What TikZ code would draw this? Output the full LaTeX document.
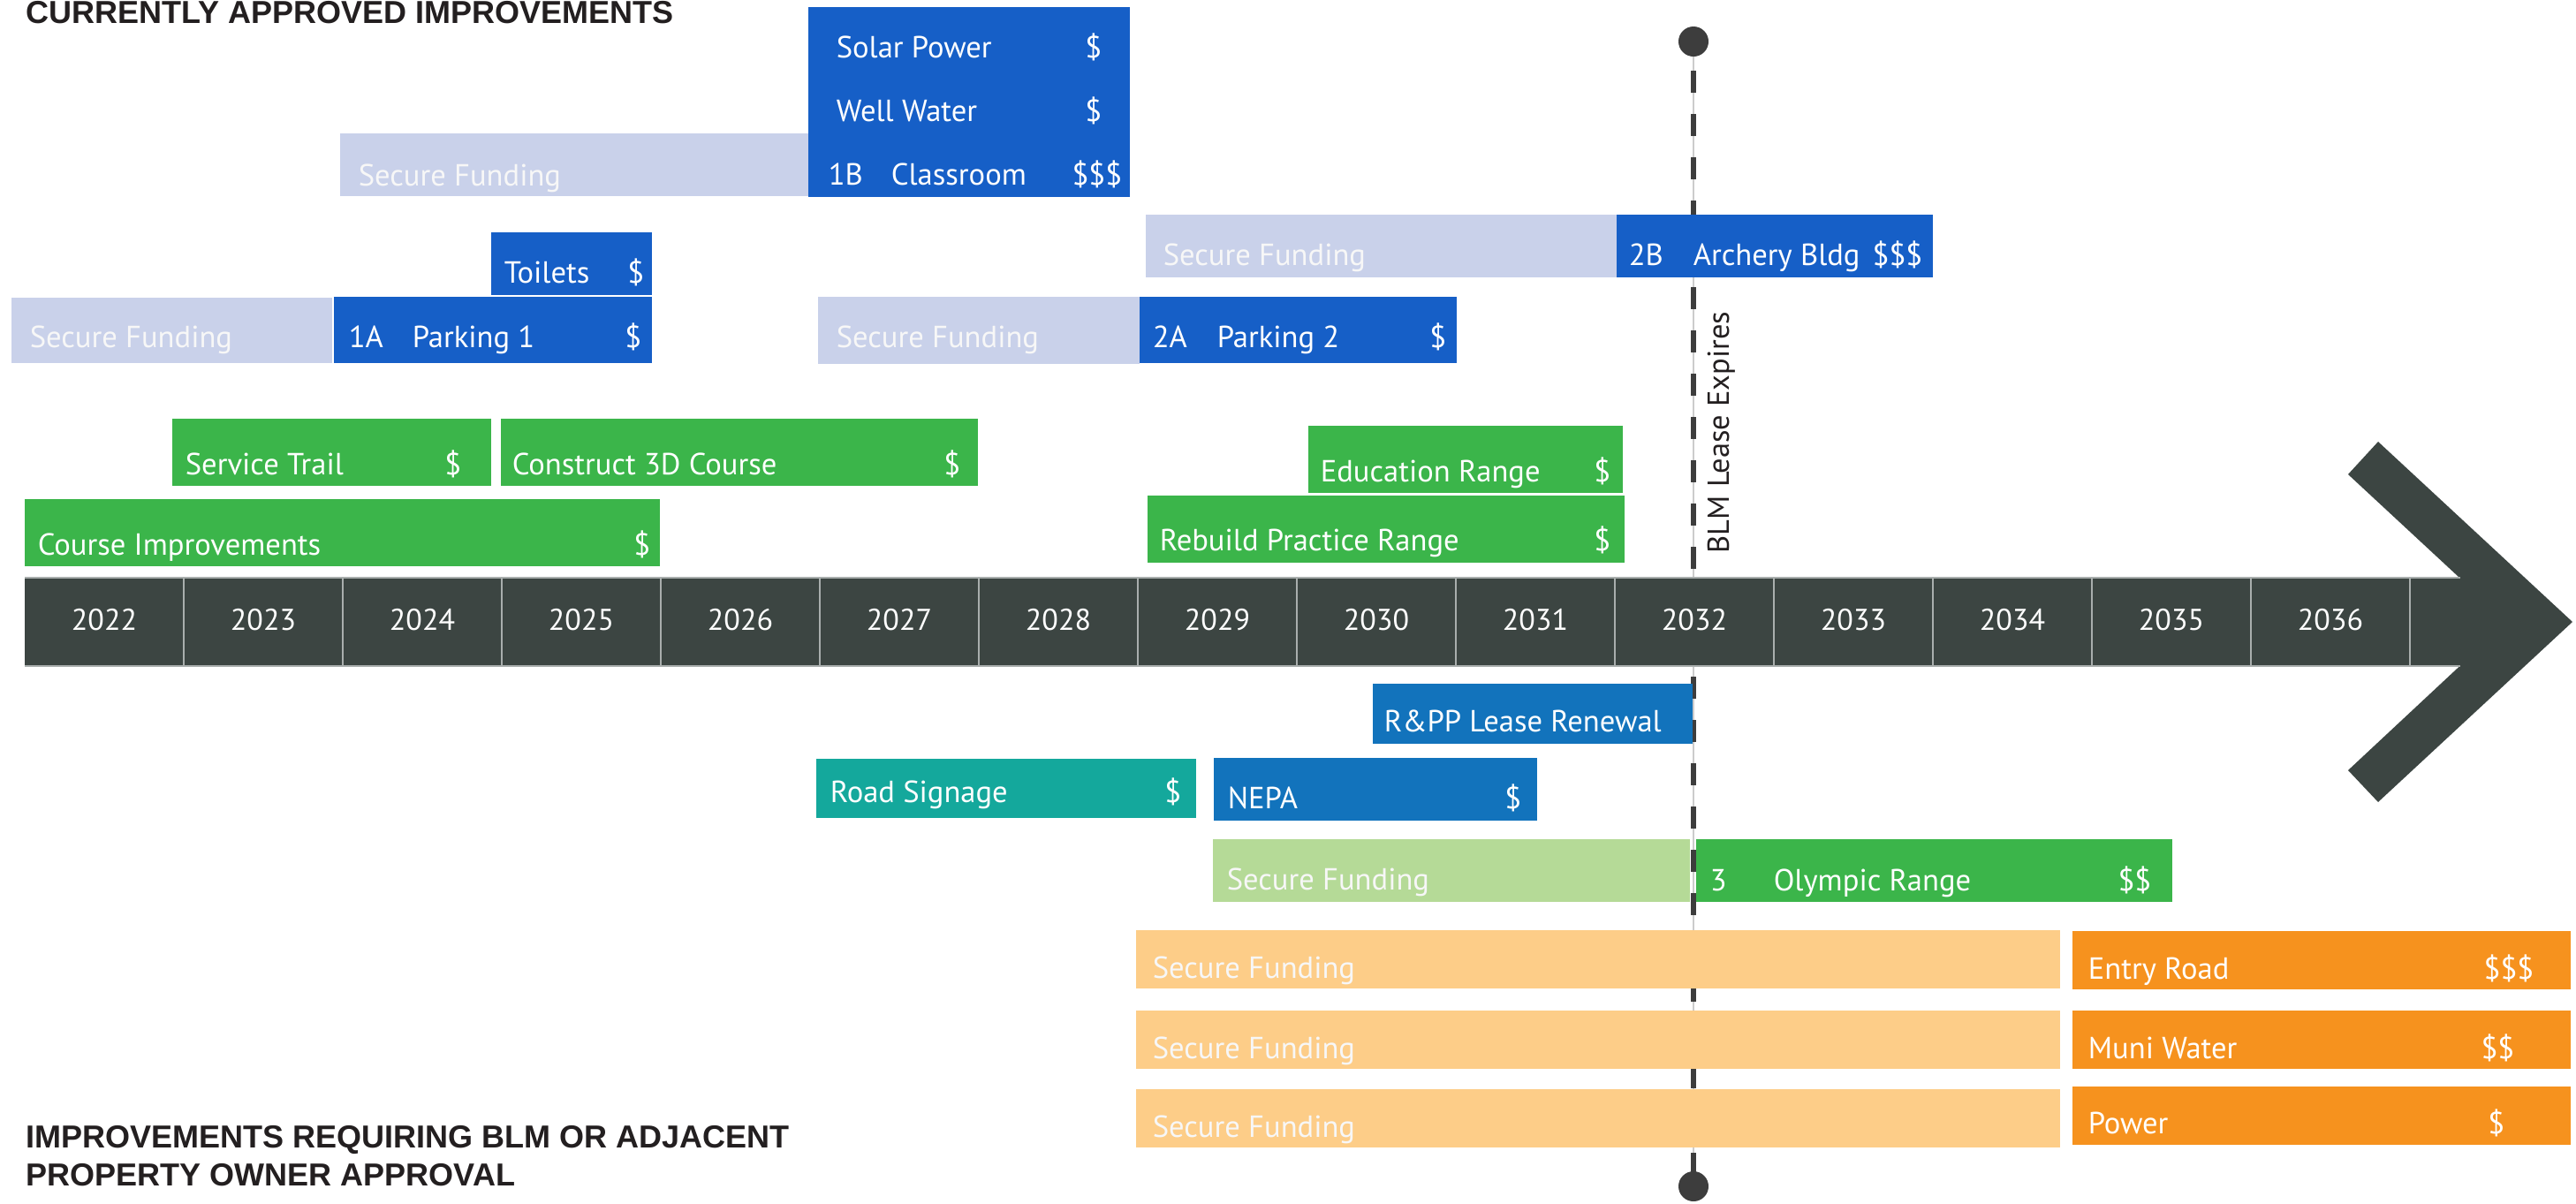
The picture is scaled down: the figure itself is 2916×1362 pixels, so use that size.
\documentclass[tikz,border=0pt]{standalone}
\usepackage{fontspec}
\setmainfont{PT Sans}
\newfontfamily\titlefont{Liberation Sans}
\definecolor{tlgray}{HTML}{3C4542}
\definecolor{tlline}{HTML}{A9AEAD}
\definecolor{blueA}{HTML}{165FC7}
\definecolor{blueB}{HTML}{1273BC}
\definecolor{lav}{HTML}{C9D1EA}
\definecolor{grn}{HTML}{3BB54A}
\definecolor{lgrn}{HTML}{B5DA97}
\definecolor{teal}{HTML}{14A89C}
\definecolor{lorange}{HTML}{FDCD88}
\definecolor{orng}{HTML}{F6921E}
\definecolor{dashcol}{HTML}{3D3D3D}
\definecolor{thinline}{HTML}{CCCCCC}
\definecolor{titlecol}{HTML}{231F20}
\definecolor{sftext}{HTML}{F7F7F7}
\newcommand{\ganttbar}[5]{\fill[#5] (#1,#2) rectangle (#3,#4);}
\begin{document}
\begin{tikzpicture}[x=0.25pt,y=-0.25pt,
  lbl/.style={anchor=base west, inner sep=0pt, text=white, font=\fontsize{8.65}{10}\selectfont},
  sf/.style={lbl, text=sftext},
  dol/.style={anchor=base east, inner sep=0pt, text=white, font=\fontsize{8.65}{10}\selectfont},
  yr/.style={anchor=base, inner sep=0pt, text=white, font=\fontsize{8.5}{10}\selectfont},
  ttl/.style={anchor=base west, inner sep=0pt, text=titlecol, font=\titlefont\bfseries\fontsize{9}{10.25}\selectfont, align=left},
  expl/.style={anchor=base west, inner sep=0pt, text=titlecol, rotate=90, font=\fontsize{8.6}{10}\selectfont}]
\useasboundingbox (0,0) rectangle (2916,1362);
\fill[white] (0,0) rectangle (2916,1362);

% lease expiry line
\coordinate (ltop) at (1917,47);
\coordinate (lbot) at (1917,1343);
\draw[thinline, line width=0.4pt] (ltop) -- (lbot);
\draw[dashcol, line width=1.65pt, dash pattern=on 6.25pt off 6pt] (1917,80) -- (lbot);

% bars: top section
\ganttbar{915}{8}{1279}{223}{blueA}
\ganttbar{385}{151}{915}{222}{lav}
\ganttbar{556}{263}{738}{334}{blueA}
\ganttbar{13}{337}{376}{411}{lav}
\ganttbar{378}{336}{738}{411}{blueA}
\ganttbar{1297}{243}{1830}{314}{lav}
\ganttbar{1830}{243}{2188}{314}{blueA}
\ganttbar{926}{336}{1290}{412}{lav}
\ganttbar{1290}{336}{1649}{411}{blueA}
\ganttbar{195}{474}{556}{550}{grn}
\ganttbar{567}{474}{1107}{550}{grn}
\ganttbar{28}{565}{747}{641}{grn}
\ganttbar{1481}{482}{1837}{558}{grn}
\ganttbar{1299}{561}{1839}{637}{grn}
% bottom section
\ganttbar{1554}{774}{1916}{842}{blueB}
\ganttbar{924}{859}{1354}{926}{teal}
\ganttbar{1374}{858}{1740}{929}{blueB}
\ganttbar{1373}{950}{1913}{1021}{lgrn}
\ganttbar{1920}{950}{2459}{1021}{grn}
\ganttbar{1286}{1053}{2332}{1119}{lorange}
\ganttbar{2346}{1054}{2910}{1120}{orng}
\ganttbar{1286}{1144}{2332}{1210}{lorange}
\ganttbar{2346}{1144}{2910}{1210}{orng}
\ganttbar{1286}{1233}{2332}{1299}{lorange}
\ganttbar{2346}{1230}{2910}{1296}{orng}

% labels
\node[lbl] (solar) at (946,65) {Solar Power};
\node[dol] (solard) at (1248,65) {\$};
\node[lbl] (well) at (946,137) {Well Water};
\node[dol] (welld) at (1248,137) {\$};
\node[lbl] (c1b) at (937,209) {1B};
\node[lbl] (class) at (1008,209) {Classroom};
\node[dol] (classd) at (1271,209) {\$\$\$};
\node[sf] (sf1b) at (405,210) {Secure Funding};
\node[lbl] (toil) at (570,320) {Toilets};
\node[dol] (toild) at (730,320) {\$};
\node[sf] (sf1a) at (33,393) {Secure Funding};
\node[lbl] (c1a) at (394,393) {1A};
\node[lbl] (park1) at (466,393) {Parking 1};
\node[dol] (park1d) at (727,393) {\$};
\node[sf] (sf2b) at (1316,300) {Secure Funding};
\node[lbl] (c2b) at (1843,300) {2B};
\node[lbl] (arch) at (1916,300) {Archery Bldg};
\node[dol] (archd) at (2177,300) {\$\$\$};
\node[sf] (sf2a) at (946,393) {Secure Funding};
\node[lbl] (c2a) at (1304,393) {2A};
\node[lbl] (park2) at (1377,393) {Parking 2};
\node[dol] (park2d) at (1638,393) {\$};
\node[lbl] (serv) at (209,537) {Service Trail};
\node[dol] (servd) at (523,537) {\$};
\node[lbl] (cons) at (579,537) {Construct 3D Course};
\node[dol] (consd) at (1088,537) {\$};
\node[lbl] (cimp) at (42,628) {Course Improvements};
\node[dol] (cimpd) at (737,628) {\$};
\node[lbl] (edu) at (1494,545) {Education Range};
\node[dol] (edud) at (1824,545) {\$};
\node[lbl] (reb) at (1312,623) {Rebuild Practice Range};
\node[dol] (rebd) at (1824,623) {\$};
\node[lbl] (rpp) at (1566,828) {R\&PP Lease Renewal};
\node[lbl] (road) at (939,908) {Road Signage};
\node[dol] (roadd) at (1338,908) {\$};
\node[lbl] (nepa) at (1389,915) {NEPA};
\node[dol] (nepad) at (1723,915) {\$};
\node[sf] (sf3) at (1388,1007) {Secure Funding};
\node[lbl] (c3) at (1935,1008) {3};
\node[lbl] (oly) at (2007,1008) {Olympic Range};
\node[dol] (olyd) at (2436,1008) {\$\$};
\node[sf] (sfe) at (1304,1107) {Secure Funding};
\node[lbl] (entry) at (2363,1108) {Entry Road};
\node[dol] (entryd) at (2869,1108) {\$\$\$};
\node[sf] (sfm) at (1304,1198) {Secure Funding};
\node[lbl] (muni) at (2363,1198) {Muni Water};
\node[dol] (munid) at (2847,1198) {\$\$};
\node[sf] (sfp) at (1304,1287) {Secure Funding};
\node[lbl] (pow) at (2363,1283) {Power};
\node[dol] (powd) at (2836,1283) {\$};

% timeline
\fill[tlgray] (28,654) rectangle (2845,754);
\fill[tlgray] (2658,537) -- (2692,500) -- (2912,704) -- (2692,908) -- (2658,872) -- (2838,704) -- cycle;
\draw[tlline, line width=0.5pt] (28,654) -- (2785,654);
\draw[tlline, line width=0.5pt] (28,754) -- (2785,754);
\foreach \k in {1,...,15} {
  \draw[tlline, line width=0.5pt] ({28+180*\k},654) -- ({28+180*\k},754);
}
\foreach \k [evaluate=\k as \yv using int(2022+\k)] in {0,...,14} {
  \node[yr] (y\k) at ({118+180*\k},713) {\yv};
}

% lease markers
\fill[dashcol] (ltop) circle[radius=17];
\fill[dashcol] (lbot) circle[radius=17];
\node[expl] (blm) at (1957,627) {BLM Lease Expires};

% titles
\node[ttl] (t1) at (29,26) {CURRENTLY APPROVED IMPROVEMENTS};
\node[ttl] (t2) at (29,1299) {IMPROVEMENTS REQUIRING BLM OR ADJACENT};
\node[ttl] (t3) at (29,1342) {PROPERTY OWNER APPROVAL};
\end{tikzpicture}
\end{document}
